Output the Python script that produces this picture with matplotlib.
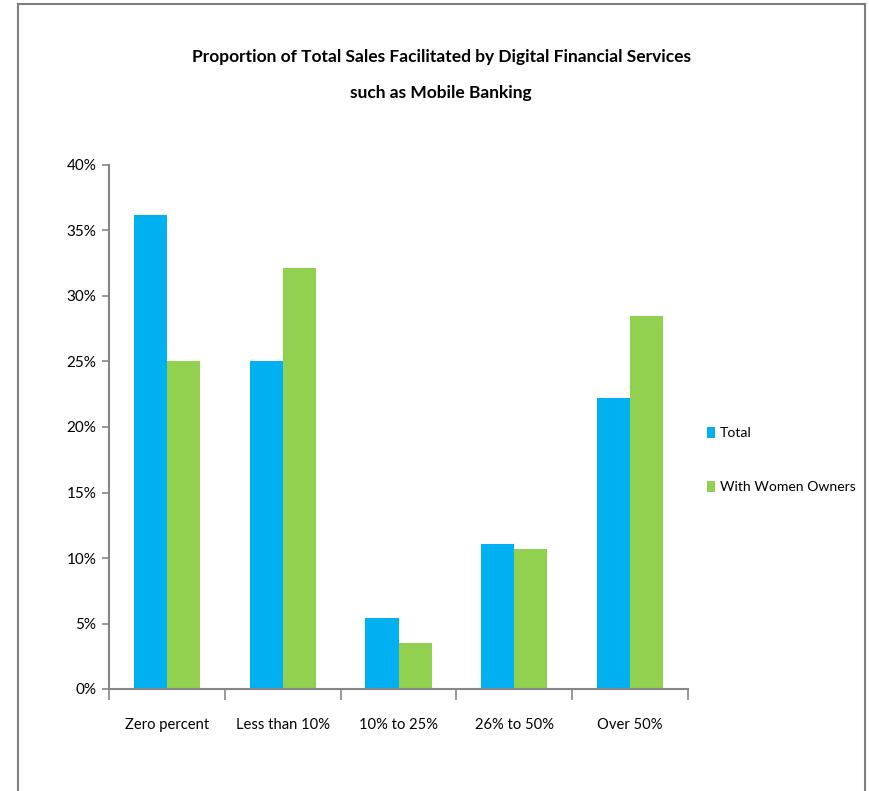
import numpy as np
import matplotlib
matplotlib.use("Agg")
import matplotlib.pyplot as plt
from matplotlib.lines import Line2D
from matplotlib.ticker import FuncFormatter, MultipleLocator

plt.rcParams['font.family'] = ['Lato', 'DejaVu Sans']

categories = ["Zero percent", "Less than 10%", "10% to 25%", "26% to 50%", "Over 50%"]
total = [36.2, 25.0, 5.4, 11.1, 22.2]
women = [25.0, 32.1, 3.5, 10.7, 28.5]
series_names = ["Total", "With Women Owners"]

blue = "#00B0F0"
green = "#92D050"
axis_gray = "#868686"

fig = plt.figure(figsize=(8.69, 7.91), dpi=100)
ax = fig.add_axes([109 / 869, 102 / 791, 579 / 869, 524 / 791])

x = np.arange(len(categories))
w = 1 / 3.5
ax.bar(x - w / 2, total, width=w, color=blue, label=series_names[0])
ax.bar(x + w / 2, women, width=w, color=green, label=series_names[1])

ax.set_xlim(-0.5, len(categories) - 0.5)
ax.set_ylim(0, 40)
ax.yaxis.set_major_locator(MultipleLocator(5))
ax.yaxis.set_major_formatter(FuncFormatter(lambda v, p: "%d%%" % v))

# category labels between the boundary ticks
ax.set_xticks(x)
ax.set_xticklabels(categories)
ax.set_xticks(np.arange(len(categories) + 1) - 0.5, minor=True)
ax.tick_params(axis="x", which="major", length=0, pad=21, labelsize=10.6)
ax.tick_params(axis="x", which="minor", length=8, width=1.2, color=axis_gray)
ax.tick_params(axis="y", length=5, width=1.2, color=axis_gray, labelsize=11, pad=4)

for s in ["top", "right"]:
    ax.spines[s].set_visible(False)
for s in ["left", "bottom"]:
    ax.spines[s].set_color(axis_gray)
    ax.spines[s].set_linewidth(1.5)

fig.text(441 / 869, 0.905, "Proportion of Total Sales Facilitated by Digital Financial Services\nsuch as Mobile Banking",
         ha="center", va="center", fontsize=12.5, fontweight="bold", linespacing=2.5)

leg = fig.legend(loc="center left", bbox_to_anchor=(694 / 869, (791 - 460) / 791), frameon=False,
                 fontsize=10.1, handlelength=0.6, handleheight=0.85, handletextpad=0.35,
                 labelspacing=2.95)

# outer frame of the chart area
frame_kw = dict(color="#7f7f7f", linewidth=1.5, transform=fig.transFigure)
l, r, t = 18 / 869, 865 / 869, (791 - 4) / 791
fig.add_artist(Line2D([l, l], [0, t], **frame_kw))
fig.add_artist(Line2D([l, r], [t, t], **frame_kw))
fig.add_artist(Line2D([r, r], [0, t], **frame_kw))

fig.savefig("out.png", dpi=100)
